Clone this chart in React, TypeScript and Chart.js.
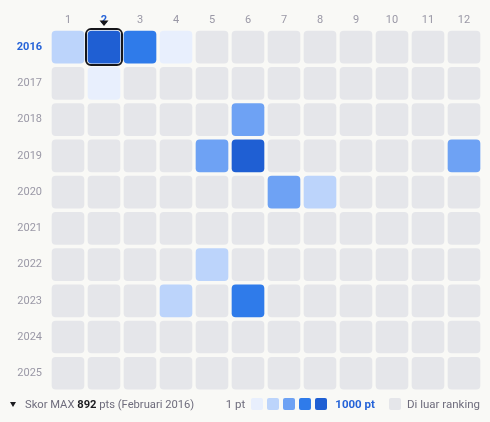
import React, { useEffect, useRef } from "react";
import { Chart, registerables } from "chart.js";

Chart.register(...registerables);

const months = [1, 2, 3, 4, 5, 6, 7, 8, 9, 10, 11, 12];
const years = ["2016", "2017", "2018", "2019", "2020", "2021", "2022", "2023", "2024", "2025"];
// monthly score per year (null = outside ranking)
const scores2016 = [310, 892, 720, 90, null, null, null, null, null, null, null, null];
const scores2017 = [null, 60, null, null, null, null, null, null, null, null, null, null];
const scores2018 = [null, null, null, null, null, 480, null, null, null, null, null, null];
const scores2019 = [null, null, null, null, 520, 845, null, null, null, null, null, 450];
const scores2020 = [null, null, null, null, null, null, 540, 280, null, null, null, null];
const scores2021 = [null, null, null, null, null, null, null, null, null, null, null, null];
const scores2022 = [null, null, null, null, 300, null, null, null, null, null, null, null];
const scores2023 = [null, null, null, 260, null, 690, null, null, null, null, null, null];
const scores2024 = [null, null, null, null, null, null, null, null, null, null, null, null];
const scores2025 = [null, null, null, null, null, null, null, null, null, null, null, null];
const scoreRows = [scores2016, scores2017, scores2018, scores2019, scores2020, scores2021, scores2022, scores2023, scores2024, scores2025];
const levelThresholds = [200, 400, 600, 800];
const maxScore = 892;
const maxYear = "2016";
const maxMonth = 2;

const BG = "#f9f9f6";
const EMPTY = "#e5e6ea";
const LEVELS = ["#e8effd", "#bcd4fb", "#6ea2f4", "#2f7bea", "#1f5fd3"];
const BLUE = "#2563d8";
const GRAY = "#9a98a6";
const FONT = "Roboto";

function colorFor(v: number | null | undefined) {
  if (v == null) return EMPTY;
  let i = 0;
  while (i < levelThresholds.length && v > levelThresholds[i]) i++;
  return LEVELS[i];
}

export default function App() {
  const ref = useRef<HTMLCanvasElement | null>(null);
  useEffect(() => {
    document.body.style.margin = "0";
    document.body.style.background = BG;
    const canvas = ref.current!;
    const half = 16 / 36;
    const datasets = months.map((m, mi) => ({
      label: String(m),
      data: years.map(() => [m - half, m + half]),
      backgroundColor: (ctx: any) => colorFor(scoreRows[ctx.dataIndex]?.[mi]),
      borderRadius: 4,
      borderSkipped: false,
      borderWidth: 0,
      barThickness: 32,
      grouped: false,
    }));
    const markerPlugin = {
      id: "marker",
      afterDatasetsDraw(chart: any) {
        const c = chart.ctx;
        const xs = chart.scales.x;
        const ys = chart.scales.y;
        const cx = xs.getPixelForValue(maxMonth);
        const cy = ys.getPixelForValue(years.indexOf(maxYear));
        const top = cy - 16;
        c.save();
        c.strokeStyle = "#16161a";
        c.lineWidth = 2;
        c.beginPath();
        (c as any).roundRect(cx - 18, cy - 18, 36, 36, 5);
        c.stroke();
        c.fillStyle = "#16161a";
        c.beginPath();
        c.moveTo(cx - 4.5, top - 10.5);
        c.lineTo(cx + 4.5, top - 10.5);
        c.lineTo(cx, top - 5);
        c.closePath();
        c.fill();
        c.restore();
      },
    };
    const chart = new Chart(canvas, {
      type: "bar",
      data: { labels: years, datasets: datasets as any },
      options: {
        animation: false,
        responsive: false,
        indexAxis: "y",
        layout: { padding: { top: 1, left: 0, right: 8, bottom: 0 } },
        plugins: { legend: { display: false }, tooltip: { enabled: false } },
        scales: {
          x: {
            type: "linear",
            position: "top",
            min: 0.5,
            max: 12.5,
            afterBuildTicks: (s: any) => {
              s.ticks = months.map((v) => ({ value: v }));
            },
            afterFit: (s: any) => {
              s.height = 28;
            },
            grid: { display: false, drawTicks: false },
            border: { display: false },
            ticks: {
              padding: 2,
              autoSkip: false,
              maxRotation: 0,
              color: (ctx: any) => (ctx.tick && ctx.tick.value === maxMonth ? BLUE : GRAY),
              font: (ctx: any) => ({ family: FONT, size: 11, weight: ctx.tick && ctx.tick.value === maxMonth ? "bold" : "normal" }),
              callback: (v: any) => String(v),
            },
          },
          y: {
            type: "category",
            afterFit: (s: any) => {
              s.width = 50;
            },
            grid: { display: false, drawTicks: false },
            border: { display: false },
            ticks: {
              padding: 8,
              color: (ctx: any) => (years[ctx.index] === maxYear ? BLUE : GRAY),
              font: (ctx: any) => ({ family: FONT, size: 11, weight: years[ctx.index] === maxYear ? "bold" : "normal" }),
            },
          },
        },
      },
      plugins: [markerPlugin],
    });
    return () => chart.destroy();
  }, []);

  const sq = (c: string) => (
    <span style={{ display: "inline-block", width: 12, height: 12, borderRadius: 2, background: c }} />
  );

  return (
    <div style={{ position: "fixed", left: 0, top: 0, width: 490, height: 422, background: BG, fontFamily: FONT, overflow: "hidden" }}>
      <canvas ref={ref} width={490} height={406} style={{ display: "block", width: 490, height: 406 }} />
      <div style={{ position: "absolute", left: 10, top: 396, height: 16, display: "flex", alignItems: "center", fontSize: 11.2, color: "#6e6c7c" }}>
        <span style={{ width: 0, height: 0, borderLeft: "3px solid transparent", borderRight: "3px solid transparent", borderTop: "5px solid #1b1b1f", marginRight: 9 }} />
        <span>
          Skor MAX <b style={{ color: "#1b1b1f" }}>{maxScore}</b> pts (Februari 2016)
        </span>
      </div>
      <div style={{ position: "absolute", right: 10, top: 396, height: 16, display: "flex", alignItems: "center", fontSize: 11.5, color: "#6e6c7c" }}>
        <span style={{ marginRight: 6 }}>1 pt</span>
        <span style={{ display: "flex", gap: 4 }}>{LEVELS.map((c) => <React.Fragment key={c}>{sq(c)}</React.Fragment>)}</span>
        <b style={{ color: BLUE, marginLeft: 8, marginRight: 14 }}>1000 pt</b>
        {sq(EMPTY)}
        <span style={{ marginLeft: 6 }}>Di luar ranking</span>
      </div>
    </div>
  );
}
